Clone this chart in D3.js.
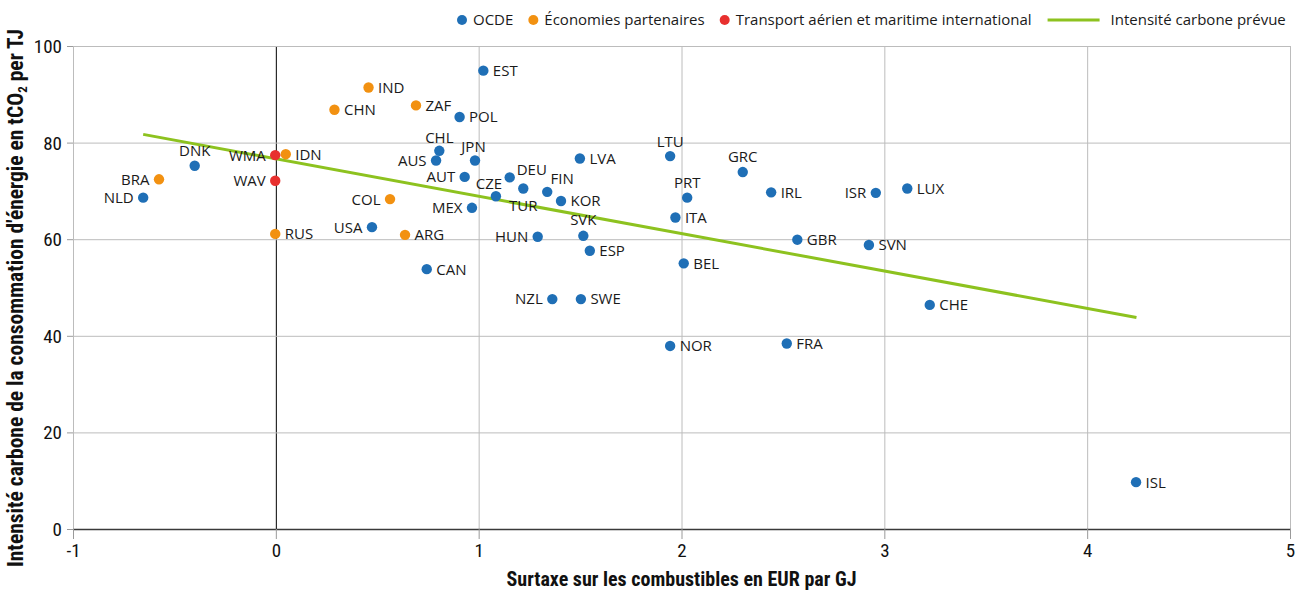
<!DOCTYPE html>
<html>
<head>
<meta charset="utf-8">
<script src="https://cdn.jsdelivr.net/npm/d3@7"></script>
<style>
  html, body { margin: 0; padding: 0; background: #fff; }
  svg { display: block; }
</style>
</head>
<body>
<svg id="chart" width="1307" height="592"></svg>
<script>
// ---------- DATA ----------
const oecdCodes = ["NLD","DNK","AUS","CHL","USA","CAN","EST","POL","JPN","AUT","MEX","CZE","DEU","TUR","FIN","KOR","LVA","HUN","SVK","ESP","NZL","SWE","LTU","GRC","PRT","ITA","BEL","NOR","IRL","ISR","LUX","GBR","SVN","CHE","FRA","ISL"];
const oecdX = [-0.654,-0.40,0.79,0.806,0.474,0.744,1.023,0.906,0.982,0.931,0.967,1.085,1.153,1.22,1.338,1.406,1.499,1.291,1.516,1.548,1.363,1.504,1.944,2.302,2.028,1.97,2.011,1.944,2.442,2.958,3.113,2.571,2.924,3.224,2.519,4.241];
const oecdY = [68.6,75.2,76.3,78.3,62.5,53.8,94.9,85.3,76.3,72.9,66.5,68.9,72.8,70.5,69.8,67.9,76.7,60.5,60.7,57.6,47.6,47.6,77.2,73.9,68.6,64.5,55.0,37.9,69.7,69.6,70.5,59.9,58.8,46.4,38.4,9.7];

const partnerCodes = ["BRA","IDN","RUS","IND","CHN","ZAF","COL","ARG"];
const partnerX = [-0.576,0.049,-0.003,0.457,0.289,0.691,0.563,0.637];
const partnerY = [72.4,77.6,61.1,91.4,86.8,87.7,68.3,60.9];

const transportCodes = ["WMA","WAV"];
const transportX = [-0.003,-0.003];
const transportY = [77.4,72.1];

const trendX = [-0.654, 4.243];
const trendY = [81.7, 43.8];

const xTicks = [-1,0,1,2,3,4,5];
const yTicks = [0,20,40,60,80,100];

const seriesNames = ["OCDE","Économies partenaires","Transport aérien et maritime international"];
const trendName = "Intensité carbone prévue";
const xTitle = "Surtaxe sur les combustibles en EUR par GJ";

// ---------- STYLE / LAYOUT ----------
const colors = ["#1f6fb6", "#f29111", "#e8302e"];
const trendColor = "#8dc21f";
const labelFont = "'Open Sans', 'Noto Sans', sans-serif";
const titleFont = "'Roboto Condensed', 'Roboto', sans-serif";

// label placement (layout only)
const labelLeft = new Set(["NLD","BRA","WMA","WAV","AUS","AUT","MEX","USA","COL","HUN","NZL","ISR"]);
const labelCentered = {DNK:[0,-15], CHL:[0,-13], JPN:[-1.5,-14], CZE:[-7,-13], FIN:[15,-13], SVK:[0,-16], LTU:[0,-15], GRC:[0,-15], PRT:[0,-15], TUR:[0,17]};
const labelRightRaised = {DEU:[7,-7.6]};

const svg = d3.select("#chart");
const M = {left: 73, right: 1290, top: 46, bottom: 529};

const x = d3.scaleLinear().domain([-1, 5]).range([M.left, M.right]);
const y = d3.scaleLinear().domain([0, 100]).range([M.bottom, M.top]);

// gridlines
const gx = svg.append("g").attr("transform", `translate(0,${M.bottom})`)
  .call(d3.axisBottom(x).tickValues(xTicks).tickSize(-(M.bottom - M.top)).tickFormat(""));
gx.select(".domain").remove();
gx.selectAll("line").attr("stroke", d => d === 0 ? "#000" : "#bcbcbc").attr("stroke-width", 1);

const gy = svg.append("g").attr("transform", `translate(${M.left},0)`)
  .call(d3.axisLeft(y).tickValues(yTicks).tickSize(-(M.right - M.left)).tickFormat(""));
gy.select(".domain").remove();
gy.selectAll("line").attr("stroke", "#bcbcbc").attr("stroke-width", 1);

// y axis (ticks + labels)
const ay = svg.append("g").attr("transform", `translate(${M.left},0)`)
  .call(d3.axisLeft(y).tickValues(yTicks).tickSize(6).tickSizeOuter(0).tickPadding(5).tickFormat(d => String(d)));
ay.select(".domain").attr("stroke", "#bcbcbc");
ay.selectAll("line").attr("stroke", "#9a9a9a");
ay.selectAll("text").attr("font-family", titleFont).attr("font-size", 19).attr("fill", "#111").attr("dy", "0.34em");

// x axis
const ax = svg.append("g").attr("transform", `translate(0,${M.bottom})`)
  .call(d3.axisBottom(x).tickValues(xTicks).tickSize(10).tickSizeOuter(0).tickPadding(5).tickFormat(d => String(d)));
ax.select(".domain").attr("stroke", "#3a3a3a").attr("stroke-width", 1.6);
ax.selectAll(".tick line").attr("stroke", "#9a9a9a");
ax.selectAll("text").attr("font-family", titleFont).attr("font-size", 19).attr("fill", "#111");

// trend line
svg.append("path")
  .datum(trendX.map((v, i) => [v, trendY[i]]))
  .attr("fill", "none").attr("stroke", trendColor).attr("stroke-width", 3)
  .attr("d", d3.line().x(d => x(d[0])).y(d => y(d[1])));

// points
const groups = [
  {codes: oecdCodes, xs: oecdX, ys: oecdY, color: colors[0]},
  {codes: partnerCodes, xs: partnerX, ys: partnerY, color: colors[1]},
  {codes: transportCodes, xs: transportX, ys: transportY, color: colors[2]}
];
groups.forEach(g => {
  const data = g.codes.map((c, i) => ({code: c, x: g.xs[i], y: g.ys[i]}));
  svg.append("g").selectAll("circle").data(data).join("circle")
    .attr("cx", d => x(d.x)).attr("cy", d => y(d.y)).attr("r", 5.2).attr("fill", g.color);
  svg.append("g").selectAll("text").data(data).join("text")
    .attr("font-family", labelFont).attr("font-size", 15).attr("fill", "#1a1a1a")
    .attr("dy", "0.36em")
    .each(function(d) {
      const t = d3.select(this);
      const px = x(d.x), py = y(d.y);
      if (labelCentered[d.code]) {
        const o = labelCentered[d.code];
        t.attr("x", px + o[0]).attr("y", py + o[1]).attr("text-anchor", "middle");
      } else if (labelRightRaised[d.code]) {
        const o = labelRightRaised[d.code];
        t.attr("x", px + o[0]).attr("y", py + o[1]).attr("text-anchor", "start");
      } else if (labelLeft.has(d.code)) {
        t.attr("x", px - 9.5).attr("y", py).attr("text-anchor", "end");
      } else {
        t.attr("x", px + 9.5).attr("y", py).attr("text-anchor", "start");
      }
    })
    .text(d => d.code);
});

// axis titles
svg.append("text")
  .attr("x", x(2)).attr("y", 586).attr("text-anchor", "middle")
  .attr("font-family", titleFont).attr("font-weight", "bold").attr("font-size", 20).attr("fill", "#111")
  .text(xTitle);

const yt = svg.append("text")
  .attr("transform", "translate(23,298) rotate(-90)")
  .attr("text-anchor", "middle")
  .attr("font-family", titleFont).attr("font-weight", "bold").attr("font-size", 21.5).attr("fill", "#111");
yt.append("tspan").text("Intensité carbone de la consommation d'énergie en tCO");
yt.append("tspan").attr("font-size", 13).attr("dy", 4).text("2");
yt.append("tspan").attr("dy", -4).text(" per TJ");

// legend
const leg = svg.append("g").attr("font-family", labelFont).attr("font-size", 15).attr("fill", "#1a1a1a");
let lx = 462;
const ly = 20;
seriesNames.forEach((name, i) => {
  leg.append("circle").attr("cx", lx).attr("cy", ly).attr("r", 5).attr("fill", colors[i]);
  const t = leg.append("text").attr("x", lx + 11).attr("y", ly).attr("dy", "0.36em").text(name);
  lx = lx + 11 + t.node().getComputedTextLength() + 20;
});
lx -= 4;
leg.append("line").attr("x1", lx).attr("x2", lx + 52).attr("y1", ly).attr("y2", ly)
  .attr("stroke", trendColor).attr("stroke-width", 3);
leg.append("text").attr("x", lx + 63).attr("y", ly).attr("dy", "0.36em").text(trendName);
</script>
</body>
</html>
